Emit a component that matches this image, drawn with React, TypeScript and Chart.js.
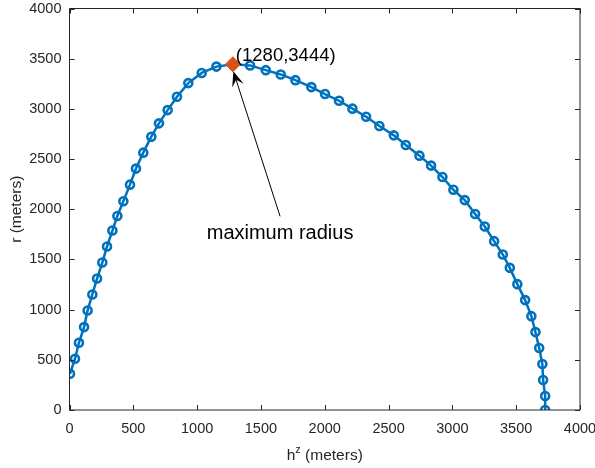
import React, { useEffect, useRef } from "react";
import { Chart, registerables } from "chart.js";

Chart.register(...registerables);

// Trajectory data: h^z (meters) vs r (meters)
const hz: number[] = [4, 43, 74, 114, 142, 179, 216, 257, 294, 336, 375, 422, 474, 521, 578, 641, 701, 769, 842, 931, 1036, 1151, 1280, 1415, 1538, 1655, 1770, 1895, 2002, 2112, 2217, 2324, 2428, 2541, 2635, 2742, 2833, 2922, 3008, 3097, 3178, 3254, 3327, 3395, 3450, 3509, 3570, 3619, 3651, 3680, 3705, 3711, 3727, 3727];
const rr: number[] = [361, 511, 670, 826, 992, 1151, 1310, 1469, 1629, 1788, 1933, 2080, 2245, 2405, 2564, 2723, 2856, 2988, 3121, 3257, 3358, 3421, 3444, 3433, 3386, 3343, 3286, 3217, 3148, 3081, 3002, 2922, 2829, 2736, 2640, 2534, 2435, 2321, 2194, 2091, 1953, 1828, 1682, 1549, 1416, 1254, 1095, 935, 776, 617, 458, 299, 139, 0];

const maxPoint = { x: 1280, y: 3444 };
const maxLabel = "(1280,3444)";
const annotationText = "maximum radius";
const annotationAt = { x: 1650, y: 1760 };

const xTicks: number[] = [0, 500, 1000, 1500, 2000, 2500, 3000, 3500, 4000];
const yTicks: number[] = [0, 500, 1000, 1500, 2000, 2500, 3000, 3500, 4000];

const FONT = "'Liberation Sans', Arial, Helvetica, sans-serif";
const AXIS_COLOR = "#262626";

const boxPlugin = {
  id: "matlabBox",
  afterDraw(chart: any) {
    const { ctx, chartArea, scales } = chart;
    const { left, right, top, bottom } = chartArea;
    const xs = scales.x;
    const ys = scales.y;
    ctx.save();
    // box
    ctx.strokeStyle = AXIS_COLOR;
    ctx.lineWidth = 1;
    ctx.beginPath();
    ctx.rect(left, top, right - left, bottom - top);
    ctx.stroke();
    // inward ticks
    const tl = 5;
    ctx.beginPath();
    xTicks.forEach((v) => {
      const px = Math.round(xs.getPixelForValue(v)) + 0.5;
      ctx.moveTo(px, bottom);
      ctx.lineTo(px, bottom - tl);
      ctx.moveTo(px, top);
      ctx.lineTo(px, top + tl);
    });
    yTicks.forEach((v) => {
      const py = Math.round(ys.getPixelForValue(v)) + 0.5;
      ctx.moveTo(left, py);
      ctx.lineTo(left + tl, py);
      ctx.moveTo(right, py);
      ctx.lineTo(right - tl, py);
    });
    ctx.stroke();

    // axis titles
    ctx.fillStyle = AXIS_COLOR;
    ctx.font = `15.5px ${FONT}`;
    ctx.textBaseline = "alphabetic";
    // y title
    ctx.save();
    ctx.translate(21, (top + bottom) / 2);
    ctx.rotate(-Math.PI / 2);
    ctx.textAlign = "center";
    ctx.fillText("r (meters)", 0, 0);
    ctx.restore();
    // x title with superscript
    const mainFont = `15.5px ${FONT}`;
    const supFont = `11px ${FONT}`;
    ctx.font = mainFont;
    const wH = ctx.measureText("h").width;
    const wRest = ctx.measureText(" (meters)").width;
    ctx.font = supFont;
    const wZ = ctx.measureText("z").width;
    const total = wH + wZ + wRest;
    let cx = (left + right) / 2 - total / 2;
    const by = 460;
    ctx.textAlign = "left";
    ctx.font = mainFont;
    ctx.fillText("h", cx, by);
    cx += wH;
    ctx.font = supFont;
    ctx.fillText("z", cx, by - 7);
    cx += wZ;
    ctx.font = mainFont;
    ctx.fillText(" (meters)", cx, by);

    // annotation
    const mx = xs.getPixelForValue(maxPoint.x);
    const my = ys.getPixelForValue(maxPoint.y);
    ctx.fillStyle = "#000";
    ctx.font = `18.5px ${FONT}`;
    ctx.textAlign = "left";
    ctx.textBaseline = "middle";
    ctx.fillText(maxLabel, mx + 3, my - 8);

    const ax = xs.getPixelForValue(annotationAt.x);
    const ay = ys.getPixelForValue(annotationAt.y);
    ctx.font = `20px ${FONT}`;
    ctx.textAlign = "center";
    ctx.textBaseline = "middle";
    ctx.fillText(annotationText, ax, ay);

    // arrow
    const sx = ax;
    const sy = ay - 17;
    const tx = mx + 0.5;
    const ty = my + 7;
    const dx = tx - sx;
    const dy = ty - sy;
    const len = Math.hypot(dx, dy);
    const ux = dx / len;
    const uy = dy / len;
    const nx = -uy;
    const ny = ux;
    const headLen = 15;
    const headW = 6;
    const notch = 9;
    ctx.strokeStyle = "#000";
    ctx.lineWidth = 1;
    ctx.beginPath();
    ctx.moveTo(sx, sy);
    ctx.lineTo(tx - ux * notch, ty - uy * notch);
    ctx.stroke();
    ctx.fillStyle = "#000";
    ctx.beginPath();
    ctx.moveTo(tx, ty);
    ctx.lineTo(tx - ux * headLen + nx * headW, ty - uy * headLen + ny * headW);
    ctx.lineTo(tx - ux * notch, ty - uy * notch);
    ctx.lineTo(tx - ux * headLen - nx * headW, ty - uy * headLen - ny * headW);
    ctx.closePath();
    ctx.fill();
    ctx.restore();
  },
};

export default function App() {
  const ref = useRef<HTMLCanvasElement | null>(null);
  useEffect(() => {
    if (!ref.current) return;
    const series = hz.map((x, i) => ({ x, y: rr[i] }));
    const chart = new Chart(ref.current, {
      type: "scatter",
      data: {
        datasets: [
          {
            label: "max",
            data: [maxPoint],
            pointStyle: "rectRot",
            pointRadius: 7.5,
            pointBackgroundColor: "#D95319",
            pointBorderColor: "#D95319",
            pointBorderWidth: 1,
            showLine: false,
          },
          {
            label: "trajectory",
            data: series,
            showLine: true,
            borderColor: "#0072BD",
            borderWidth: 2.5,
            pointStyle: "circle",
            pointRadius: 4,
            pointBorderWidth: 2.6,
            pointBorderColor: "#0072BD",
            pointBackgroundColor: "rgba(0,0,0,0)",
            tension: 0,
          },
        ],
      },
      options: {
        responsive: false,
        animation: false,
        events: [],
        layout: { padding: { top: 8, right: 15, left: 0, bottom: 0 } },
        plugins: {
          legend: { display: false },
          tooltip: { enabled: false },
        },
        scales: {
          x: {
            type: "linear",
            min: 0,
            max: 4000,
            afterFit: (s: any) => {
              s.height = 58;
              s.paddingLeft = 0;
              s.paddingRight = 0;
              s.paddingTop = 0;
              s.paddingBottom = 0;
            },
            afterBuildTicks: (s: any) => {
              s.ticks = xTicks.map((v) => ({ value: v }));
            },
            grid: { display: false, drawTicks: false },
            border: { display: false },
            ticks: {
              padding: 10,
              maxRotation: 0,
              color: AXIS_COLOR,
              font: { family: FONT, size: 14.5 },
              callback: (v: any) => String(v),
            },
          },
          y: {
            type: "linear",
            min: 0,
            max: 4000,
            afterFit: (s: any) => {
              s.width = 69.5;
              s.paddingLeft = 0;
              s.paddingRight = 0;
              s.paddingTop = 0;
              s.paddingBottom = 0;
            },
            afterBuildTicks: (s: any) => {
              s.ticks = yTicks.map((v) => ({ value: v }));
            },
            grid: { display: false, drawTicks: false },
            border: { display: false },
            ticks: {
              padding: 8,
              color: AXIS_COLOR,
              font: { family: FONT, size: 14.5 },
              callback: (v: any) => String(v),
            },
          },
        },
      },
      plugins: [boxPlugin],
    });
    return () => chart.destroy();
  }, []);
  return (
    <div style={{ position: "fixed", left: 0, top: 0, width: 595, height: 468, background: "#fff" }}>
      <canvas ref={ref} width={595} height={468} style={{ width: 595, height: 468, display: "block" }} />
    </div>
  );
}
